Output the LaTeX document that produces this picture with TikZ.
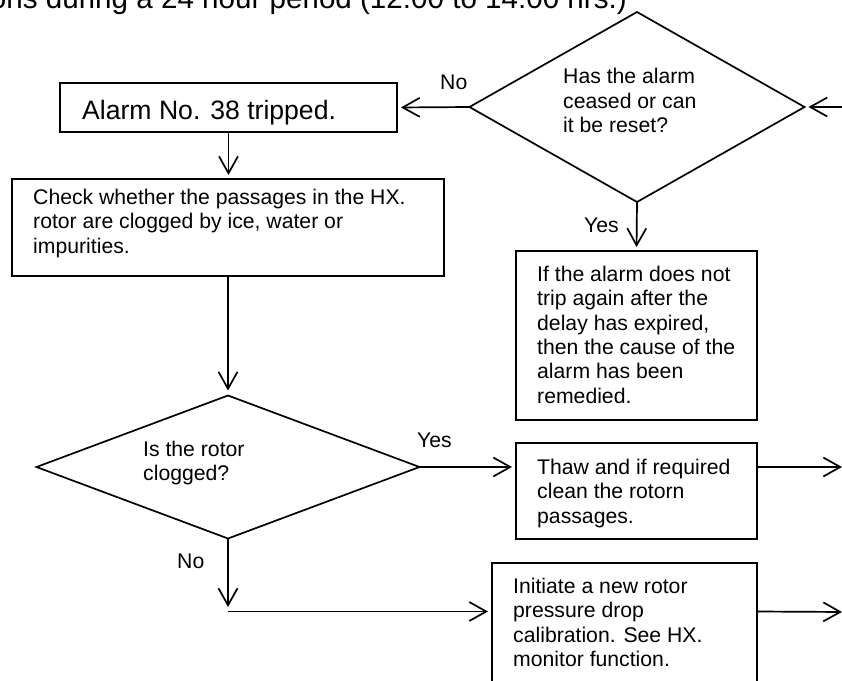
\documentclass[tikz,border=0pt]{standalone}
\usepackage{fontspec}
\setmainfont{Liberation Sans}
\usetikzlibrary{arrows.meta,shapes.geometric}

% strut that fixes the height of the first line of a text block
\newcommand\lnstart{\rule{0pt}{17pt}}

\tikzset{
  stepbox/.style={draw, rectangle, line width=1.7pt, inner sep=0pt, outer sep=0pt},
  decision/.style={draw, diamond, line width=1.7pt, inner sep=0pt, outer sep=0pt},
  txt/.style={anchor=north west, inner sep=0pt, align=left,
              font=\fontsize{21.2pt}{24.4pt}\selectfont},
  lbl/.style={anchor=base west, inner sep=0pt,
              font=\fontsize{21.2pt}{24.4pt}\selectfont},
  flow/.style={line width=1.7pt, -{Straight Barb[length=17pt,width=19pt]},
               shorten >=4pt},
}

\begin{document}
\begin{tikzpicture}[x=1pt, y=-1pt]
  \useasboundingbox (0,0) rectangle (842,680);
  \clip (0,0) rectangle (842,680);
  \fill[white] (0,0) rectangle (842,680);

  % heading line, cut at the top edge
  \node[anchor=base east, inner sep=0pt, font=\fontsize{29.6pt}{34pt}\selectfont]
    (hdr) at (627,9) {ons during a 24 hour period (12:00 to 14:00 hrs.)};

  % boxes and decisions
  \node[stepbox, minimum width=337pt, minimum height=49pt]  (alarm)  at (228.5,107.5) {};
  \node[stepbox, minimum width=432pt, minimum height=97pt]  (check)  at (228,227.5) {};
  \node[stepbox, minimum width=241pt, minimum height=169pt] (ifbox)  at (636.5,335.5) {};
  \node[stepbox, minimum width=241pt, minimum height=96pt]  (thaw)   at (636.5,491) {};
  \node[stepbox, minimum width=265pt, minimum height=123pt] (init)   at (624.5,624.5) {};
  \node[decision, minimum width=335pt, minimum height=190pt] (d1) at (637,107) {};
  \node[decision, minimum width=383pt, minimum height=143pt] (d2) at (228,467) {};

  % texts
  \node[anchor=base west, inner sep=0pt, font=\fontsize{26.6pt}{30pt}\selectfont]
    (alarm-t) at (82,119) {Alarm No. 38 tripped.};
  \node[txt] (check-t) at (33,187) {\lnstart Check whether the passages in the HX.\\
    rotor are clogged by ice, water or\\ impurities.};
  \node[txt] (d1-t) at (563,66.5) {\lnstart Has the alarm\\ ceased or can\\ it be reset?};
  \node[txt] (ifbox-t) at (537,264) {\lnstart If the alarm does not\\ trip again after the\\
    delay has expired,\\ then the cause of the\\ alarm has been\\ remedied.};
  \node[txt] (d2-t) at (143,439) {\lnstart Is the rotor\\ clogged?};
  \node[txt] (thaw-t) at (537,457) {\lnstart Thaw and if required\\ clean the rotorn\\ passages.};
  \node[txt] (init-t) at (513,576) {\lnstart Initiate a new rotor\\ pressure drop\\
    calibration. See HX.\\ monitor function.};

  % branch labels
  \node[lbl] (no1)  at (440,89)  {No};
  \node[lbl] (yes1) at (584,232) {Yes};
  \node[lbl] (yes2) at (417,447) {Yes};
  \node[lbl] (no2)  at (177,568) {No};

  % free ends of connectors
  \coordinate (in1)    at (846,107);
  \coordinate (out1)   at (846,467);
  \coordinate (out2)   at (846,612);
  \coordinate (nodrop) at (228,607);
  \coordinate (bend)   at (228,611.5);

  % connectors
  \draw[flow] (in1) -- (d1.east);
  \draw[flow] (d1.west) -- (alarm.east);
  \draw[flow] (d1.south) -- (ifbox.north);
  \draw[flow] (alarm.south) -- (alarm.south |- check.north);
  \draw[flow, shorten >=5pt] (check.south) -- (d2.north);
  \draw[flow] (d2.east) -- (d2.east -| thaw.west);
  \draw[flow] (d2.east -| thaw.east) -- (out1);
  \draw[flow, shorten >=0pt] (d2.south) -- (nodrop);
  \draw[flow] (bend) -- (bend -| init.west);
  \draw[flow] (bend -| init.east) -- (out2);
\end{tikzpicture}
\end{document}
